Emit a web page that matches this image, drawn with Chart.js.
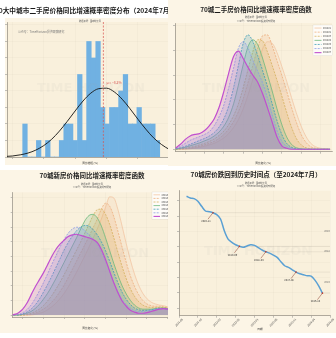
<!DOCTYPE html>
<html><head><meta charset="utf-8">
<script src="https://cdn.jsdelivr.net/npm/chart.js@4.4.1/dist/chart.umd.min.js"></script>
<style>
html,body{margin:0;padding:0;background:#fff;width:336px;height:338px;overflow:hidden}
.panel{position:absolute;overflow:hidden}
.panel canvas{position:absolute}
</style></head><body>
<div class="panel" style="left:0;top:0;width:168px;height:169px"><canvas id="c1" width="183" height="169" style="left:-6px;top:0;width:183px;height:169px"></canvas></div>
<div class="panel" style="left:168px;top:0;width:168px;height:169px"><canvas id="c2" width="168" height="169" style="left:0;top:0;width:168px;height:169px"></canvas></div>
<div class="panel" style="left:0;top:169px;width:168px;height:169px"><canvas id="c3" width="195" height="169" style="left:0;top:0;width:195px;height:169px"></canvas></div>
<div class="panel" style="left:168px;top:169px;width:168px;height:169px"><canvas id="c4" width="168" height="169" style="left:0;top:0;width:168px;height:169px"></canvas></div>
<script>
// ---------------- DATA ----------------
// Panel 1: histogram of 70 cities' second-hand price YoY (Jul 2024)
const HIST_START = -13.34;
const HIST_BIN_WIDTH = 0.291;
const HIST_COUNTS = [2,0,0,1,0,1,0,0,1,2,2,1,5,1,7,6,7,3,2,3,3,4,5,2,2,3,2,2,2,1];
const HIST_MEAN = -8.2;
const NORMAL_X = [-14.5,-14,-13.5,-13,-12.5,-12,-11.5,-11,-10.5,-10,-9.5,-9,-8.5,-8,-7.5,-7,-6.5,-6,-5.5,-5,-4.5,-4,-3.5];
const NORMAL_Y = [0.03,0.06,0.13,0.24,0.42,0.69,1.07,1.57,2.16,2.79,3.39,3.87,4.14,4.17,3.94,3.50,2.92,2.29,1.69,1.16,0.76,0.46,0.26];
const HIST_X_TICKS = [-14,-12,-10,-8,-6,-4];
const HIST_Y_TICKS = [0,1,2,3,4,5,6,7,8];

// Panel 2: KDE of second-hand price YoY, 7 months
const SERIES_LABELS = ['2024-01','2024-02','2024-03','2024-04','2024-05','2024-06','2024-07'];
const KDE2_X = [-15,-14.5,-14,-13.5,-13,-12.5,-12,-11.5,-11,-10.5,-10,-9.5,-9,-8.5,-8,-7.5,-7,-6.5,-6,-5.5,-5,-4.5,-4,-3.5,-3,-2.5,-2,-1.5,-1,-0.5,0,0.5,1];
const KDE2_S1 = [0,0,0,.001,.002,.004,.006,.009,.012,.017,.023,.032,.044,.060,.082,.110,.142,.175,.203,.218,.215,.196,.168,.138,.105,.074,.047,.026,.012,.005,.002,.001,0];
const KDE2_S2 = [0,0,.001,.002,.004,.006,.009,.012,.016,.022,.030,.041,.056,.076,.102,.135,.170,.205,.230,.232,.210,.180,.150,.118,.085,.055,.030,.014,.005,.002,0,0,0];
const KDE2_S3 = [0,.001,.002,.004,.006,.009,.012,.016,.021,.028,.037,.050,.068,.092,.125,.162,.198,.222,.220,.198,.170,.140,.108,.075,.045,.022,.009,.003,.001,0,0,0,0];
const KDE2_S4 = [0,.002,.004,.007,.010,.013,.017,.021,.027,.035,.047,.065,.092,.130,.172,.208,.222,.212,.185,.152,.118,.082,.050,.025,.010,.003,.001,0,0,0,0,0,0];
const KDE2_S5 = [.001,.003,.006,.010,.014,.018,.022,.027,.034,.045,.062,.088,.125,.170,.215,.232,.218,.190,.160,.128,.092,.058,.030,.012,.004,.001,0,0,0,0,0,0,0];
const KDE2_S6 = [.002,.006,.012,.018,.022,.026,.030,.036,.048,.066,.090,.125,.165,.205,.218,.205,.180,.158,.135,.105,.070,.038,.016,.006,.002,0,0,0,0,0,0,0,0];
const KDE2_S7 = [.003,.010,.020,.027,.030,.032,.038,.048,.062,.085,.118,.155,.188,.199,.184,.166,.150,.136,.113,.085,.055,.025,.007,.002,0,0,0,0,0,0,0,0,0];
const KDE2_X_TICKS = [-14,-12,-10,-8,-6,-4,-2,0];
const KDE2_Y_TICKS = [0,0.05,0.10,0.15,0.20,0.25];

// Panel 3: KDE of new-home price YoY, 7 months
const KDE3_X = [-14,-13.5,-13,-12.5,-12,-11.5,-11,-10.5,-10,-9.5,-9,-8.5,-8,-7.5,-7,-6.5,-6,-5.5,-5,-4.5,-4,-3.5,-3,-2.5,-2,-1.5,-1,-0.5,0,0.5,1,1.5,2,2.5,3,3.5,4,4.5,5,5.5,6,6.5,7,7.5];
const KDE3_S1 = [0,0,0,0,0,0,.001,.003,.005,.009,.014,.020,.028,.037,.048,.060,.073,.087,.101,.116,.131,.147,.164,.184,.202,.200,.180,.152,.122,.094,.070,.051,.037,.028,.022,.019,.017,.016,.014,.011,.008,.005,.002,.001];
const KDE3_S2 = [0,0,0,0,0,.001,.003,.006,.010,.015,.022,.030,.040,.051,.064,.078,.092,.106,.120,.134,.149,.164,.181,.191,.186,.168,.143,.116,.090,.067,.049,.035,.025,.019,.016,.015,.015,.014,.013,.010,.007,.004,.002,.001];
const KDE3_S3 = [0,0,0,0,.001,.003,.006,.010,.016,.024,.033,.044,.056,.069,.083,.097,.111,.125,.140,.155,.170,.180,.181,.172,.155,.132,.107,.083,.062,.045,.032,.023,.017,.014,.013,.013,.013,.013,.012,.009,.006,.003,.001,0];
const KDE3_S4 = [0,0,0,.001,.003,.006,.011,.018,.027,.037,.049,.062,.076,.090,.104,.118,.132,.147,.161,.170,.172,.166,.152,.132,.110,.088,.068,.050,.036,.025,.017,.012,.010,.010,.010,.011,.012,.012,.011,.008,.005,.003,.001,0];
const KDE3_S5 = [0,0,0,.002,.005,.010,.017,.027,.039,.052,.066,.081,.096,.111,.124,.135,.144,.150,.153,.152,.146,.137,.125,.110,.092,.073,.055,.039,.027,.018,.012,.009,.008,.008,.009,.010,.011,.011,.010,.008,.005,.002,.001,0];
const KDE3_S6 = [0,0,.001,.004,.009,.017,.028,.041,.055,.070,.086,.101,.116,.129,.140,.147,.150,.149,.144,.137,.130,.121,.108,.092,.074,.056,.040,.027,.018,.012,.008,.006,.006,.007,.008,.010,.011,.011,.010,.007,.004,.002,.001,0];
const KDE3_S7 = [0,.001,.004,.010,.020,.034,.048,.060,.072,.086,.100,.112,.121,.128,.134,.137,.138,.136,.134,.132,.129,.124,.112,.095,.075,.055,.038,.024,.015,.008,.005,.003,.003,.004,.006,.008,.010,.011,.010,.008,.005,.003,.001,0];
const KDE3_X_TICKS = [-12.5,-10,-7.5,-5,-2.5,0,2.5,5,7.5];
const KDE3_Y_TICKS = [0,0.025,0.05,0.075,0.1,0.125,0.15,0.175,0.2];

// Panel 4: 70-city price index, monthly 2021-07 .. 2024-07
const LINE_DATES = ['2021-07','2021-08','2021-09','2021-10','2021-11','2021-12','2022-01','2022-02','2022-03','2022-04','2022-05','2022-06','2022-07','2022-08','2022-09','2022-10','2022-11','2022-12','2023-01','2023-02','2023-03','2023-04','2023-05','2023-06','2023-07','2023-08','2023-09','2023-10','2023-11','2023-12','2024-01','2024-02','2024-03','2024-04','2024-05','2024-06','2024-07'];
const LINE_VALUES = [98.61,98.39,98.30,97.96,97.30,96.69,96.60,96.47,96.21,95.65,94.12,93.03,92.60,92.29,92.08,91.95,92.12,92.29,92.20,91.90,91.60,91.37,91.20,90.94,90.64,90.07,89.55,89.33,89.02,88.72,88.50,88.37,88.24,88.20,87.67,86.93,85.97];
const ANNOT_IDX = [7,14,21,29,36];
const ANNOT_LABELS = ['2020-11','2019-06','2018-09','2017-08','2016-10'];
const RIGHT_NOTES = ['2020','2018','2016'];
const LINE_X_TICKS = [-2,3,8,13,18,23,28,33,38];
const LINE_X_TICK_LABELS = ['2021-05','2021-10','2022-03','2022-08','2023-01','2023-06','2023-11','2024-04','2024-09'];
const LINE_Y_TICKS = [84,86,88,90,92,94,96,98];

// ---------------- STYLE ----------------
const FONT = '"Noto Sans CJK SC","DejaVu Sans",sans-serif';
const FIG_BG = '#fcf5e6';
const PLOT_BG = '#f9f0dc';
const KDE_COLORS = ['#f2c7a5','#eeaf7e','#d6b15e','#6cb97c','#3e9db8','#8d9de4','#c04fcf'];
const KDE_DASH = [[],[2,1.2],[2,1.2],[],[2,1.2],[2,1.2],[]];
const SRC = '数据来源：国家统计局';
const GZH = '公众号：TimeHorizon投资观察研究';

function hexA(h,a){const n=parseInt(h.slice(1),16);return `rgba(${n>>16&255},${n>>8&255},${n&255},${a})`;}
function T(ctx,s,x,y,size,o={}){ctx.save();ctx.font=`${o.weight||'normal'} ${size}px ${FONT}`;ctx.fillStyle=o.color||'#333';ctx.textAlign=o.align||'center';ctx.textBaseline=o.baseline||'middle';if(o.rot){ctx.translate(x,y);ctx.rotate(o.rot);ctx.fillText(s,0,0);}else ctx.fillText(s,x,y);ctx.restore();}
function watermark(ctx,x,y){ctx.save();ctx.font=`bold 13px "DejaVu Sans",sans-serif`;ctx.fillStyle='rgba(170,170,170,0.08)';ctx.textAlign='center';ctx.textBaseline='middle';ctx.fillText('TIME HORIZON',x,y);ctx.restore();}
const minus = v => String(v).replace('-','\u2212');

function axis(ticks, fmt, extra={}){
  return Object.assign({
    type:'linear', offset:false,
    afterBuildTicks: s => { s.ticks = ticks.map(v=>({value:v})); },
    ticks:{font:{family:FONT,size:2.7}, color:'#444', padding:1, autoSkip:false, maxRotation:0, minRotation:0, callback: v => fmt(v)},
    grid:{color:'rgba(0,0,0,0.04)', lineWidth:0.5, tickColor:'#888', tickLength:2, drawTicks:true, offset:false},
    border:{color:'#8f8a80', width:0.7}
  }, extra);
}
function legend(ctx,x,y,w,rowH,lineLen,fs){
  ctx.save();
  ctx.fillStyle='rgba(255,255,255,0.8)';ctx.strokeStyle='rgba(0,0,0,0.12)';ctx.lineWidth=0.4;
  ctx.fillRect(x,y,w,rowH*SERIES_LABELS.length+2);ctx.strokeRect(x,y,w,rowH*SERIES_LABELS.length+2);
  SERIES_LABELS.forEach((l,i)=>{
    const yy=y+1+rowH*(i+0.5);
    ctx.strokeStyle=KDE_COLORS[i];ctx.lineWidth=i===6?1.1:0.8;ctx.setLineDash(KDE_DASH[i]);
    ctx.beginPath();ctx.moveTo(x+1.5,yy);ctx.lineTo(x+1.5+lineLen,yy);ctx.stroke();
    ctx.setLineDash([]);
    T(ctx,l,x+3+lineLen,yy,fs,{align:'left',color:'#333'});
  });
  ctx.restore();
}
function kdeSets(xs, series){
  return series.map((ys,i)=>({label:SERIES_LABELS[i], data:xs.map((x,j)=>({x,y:ys[j]})),
    borderColor:KDE_COLORS[i], backgroundColor:hexA(KDE_COLORS[i],0.2), borderWidth:i===6?1.2:0.8,
    borderDash:KDE_DASH[i], fill:'origin', pointRadius:0, cubicInterpolationMode:'monotone', order:6-i}));
}
const common = {responsive:false, animation:false, devicePixelRatio:1, events:[],
  plugins:{legend:{display:false}, tooltip:{enabled:false}, title:{display:false}}};

// ---------------- PANEL 1 ----------------
new Chart(document.getElementById('c1'), {
  type:'bar',
  data:{datasets:[
    {type:'line', data:NORMAL_X.map((x,i)=>({x,y:NORMAL_Y[i]})), borderColor:'#111', borderWidth:0.9, pointRadius:0, cubicInterpolationMode:'monotone', fill:false, order:0},
    {type:'bar', data:HIST_COUNTS.map((c,i)=>({x:HIST_START+(i+0.5)*HIST_BIN_WIDTH, y:c})), backgroundColor:'#70b1e2', borderWidth:0, barPercentage:1, categoryPercentage:1, order:1}
  ]},
  options:Object.assign({}, common, {
    layout:{padding:{left:13,top:22,right:0,bottom:12}},
    scales:{
      x:axis(HIST_X_TICKS, minus, {min:-14.34, max:-3.51, afterFit:s=>{s.height=0;}}),
      y:axis(HIST_Y_TICKS, v=>String(v), {min:0, max:8.18, afterFit:s=>{s.width=0;}})
    }
  }),
  plugins:[{id:'p1',
    beforeDraw(c){const ctx=c.ctx,a=c.chartArea;ctx.save();ctx.fillStyle='#fff';ctx.fillRect(0,0,c.width,c.height);
      ctx.fillStyle=FIG_BG;ctx.fillRect(11,18,c.width-11,147);ctx.fillStyle=PLOT_BG;ctx.fillRect(a.left,a.top,a.right-a.left,a.bottom-a.top);ctx.restore();},
    afterDatasetsDraw(c){const ctx=c.ctx,a=c.chartArea,x=c.scales.x.getPixelForValue(HIST_MEAN);
      ctx.save();ctx.strokeStyle='#d9534f';ctx.lineWidth=0.7;ctx.setLineDash([2,1.5]);ctx.beginPath();ctx.moveTo(x,a.top);ctx.lineTo(x,a.bottom);ctx.stroke();ctx.restore();
      T(ctx,'μ = '+minus(HIST_MEAN)+'%',x+3,83,3.4,{align:'left',color:'#d9534f'});
      watermark(ctx,97,89);},
    afterDraw(c){const ctx=c.ctx;
      T(ctx,'70大中城市二手房价格同比增速概率密度分布（2024年7月）',91.5,10,6.7,{color:'#1a1a1a',weight:'bold'});
      T(ctx,SRC,96,21,2.2,{color:'#555'});
      T(ctx,GZH,24,32,2.9,{align:'left',color:'#777'});
      T(ctx,'同比增幅 (%)',96,163,2.7,{color:'#333'});}
  }]
});

// ---------------- PANEL 2 ----------------
new Chart(document.getElementById('c2'), {
  type:'line',
  data:{datasets:kdeSets(KDE2_X,[KDE2_S1,KDE2_S2,KDE2_S3,KDE2_S4,KDE2_S5,KDE2_S6,KDE2_S7])},
  options:Object.assign({}, common, {
    layout:{padding:{left:7,top:23,right:4,bottom:17.3}},
    scales:{
      x:axis(KDE2_X_TICKS, minus, {min:-15.07, max:1.2, afterFit:s=>{s.height=0;}}),
      y:axis(KDE2_Y_TICKS, v=>v.toFixed(2), {min:-0.005, max:0.256, afterFit:s=>{s.width=0;}})
    }
  }),
  plugins:[{id:'p2',
    beforeDraw(c){const ctx=c.ctx,a=c.chartArea;ctx.save();ctx.fillStyle='#fff';ctx.fillRect(0,0,c.width,c.height);ctx.fillStyle=FIG_BG;ctx.fillRect(0,0,c.width,166);
      ctx.fillStyle=PLOT_BG;ctx.fillRect(a.left,a.top,a.right-a.left,a.bottom-a.top);ctx.restore();},
    afterDatasetsDraw(c){watermark(c.ctx,88,89);},
    afterDraw(c){const ctx=c.ctx;
      T(ctx,'70城二手房价格同比增速概率密度函数',88,10,6.5,{color:'#1a1a1a',weight:'bold'});
      T(ctx,SRC,88,17,2.2,{color:'#555'});
      T(ctx,GZH,88,21,2.4,{color:'#555'});
      T(ctx,'同比变化 (%)',95,162.5,2.7,{color:'#333'});
      legend(ctx,145,25,19.5,4.1,7,2.2);}
  }]
});

// ---------------- PANEL 3 ----------------
new Chart(document.getElementById('c3'), {
  type:'line',
  data:{datasets:kdeSets(KDE3_X,[KDE3_S1,KDE3_S2,KDE3_S3,KDE3_S4,KDE3_S5,KDE3_S6,KDE3_S7])},
  options:Object.assign({}, common, {
    layout:{padding:{left:12.7,top:23.3,right:7,bottom:21}},
    scales:{
      x:axis(KDE3_X_TICKS, v=>minus(v.toFixed(1)), {min:-13.71, max:7.46, afterFit:s=>{s.height=0;}}),
      y:axis(KDE3_Y_TICKS, v=>v.toFixed(3), {min:-0.0034, max:0.2097, afterFit:s=>{s.width=0;}})
    }
  }),
  plugins:[{id:'p3',
    beforeDraw(c){const ctx=c.ctx,a=c.chartArea;ctx.save();ctx.fillStyle='#fff';ctx.fillRect(0,0,c.width,c.height);ctx.fillStyle=FIG_BG;ctx.fillRect(0,1,c.width,163);
      ctx.fillStyle=PLOT_BG;ctx.fillRect(a.left,a.top,a.right-a.left,a.bottom-a.top);ctx.restore();},
    afterDatasetsDraw(c){watermark(c.ctx,95,85);},
    afterDraw(c){const ctx=c.ctx;
      T(ctx,'70城新房价格同比增速概率密度函数',92,7,6.5,{color:'#1a1a1a',weight:'bold'});
      T(ctx,SRC,92,15,2.2,{color:'#555'});
      T(ctx,GZH,92,18,2.4,{color:'#555'});
      T(ctx,'同比变化 (%)',90,159,2.7,{color:'#333'});
      legend(ctx,152,23,30,3.6,6.5,2.2);}
  }]
});

// ---------------- PANEL 4 ----------------
new Chart(document.getElementById('c4'), {
  type:'line',
  data:{datasets:[{data:LINE_VALUES.map((v,i)=>({x:i,y:v})), borderColor:'#5aa0d4', borderWidth:1.5, pointRadius:0, tension:0.3, fill:false}]},
  options:Object.assign({}, common, {
    layout:{padding:{left:11,top:21.7,right:6,bottom:22.3}},
    scales:{
      x:axis(LINE_X_TICKS, v=>'', {min:-2, max:38, afterFit:s=>{s.height=0;}}),
      y:axis(LINE_Y_TICKS, v=>v.toFixed(2), {min:83.03, max:99.34, afterFit:s=>{s.width=0;}})
    }
  }),
  plugins:[{id:'p4',
    beforeDraw(c){const ctx=c.ctx,a=c.chartArea;ctx.save();ctx.fillStyle='#fff';ctx.fillRect(0,0,c.width,c.height);ctx.fillStyle=FIG_BG;ctx.fillRect(0,1,c.width,163);
      ctx.fillStyle=PLOT_BG;ctx.fillRect(a.left,a.top,a.right-a.left,a.bottom-a.top);
      const xs=c.scales.x, ys=c.scales.y;
      ctx.strokeStyle='rgba(0,0,0,0.13)';ctx.lineWidth=0.5;
      ANNOT_IDX.forEach(i=>{const px=xs.getPixelForValue(i),py=ys.getPixelForValue(LINE_VALUES[i]);ctx.beginPath();ctx.moveTo(px,py);ctx.lineTo(a.right,py);ctx.stroke();});
      ctx.restore();},
    afterDatasetsDraw(c){const ctx=c.ctx,xs=c.scales.x,ys=c.scales.y;
      watermark(ctx,90,83);
      ANNOT_IDX.forEach((i,k)=>{const px=xs.getPixelForValue(i),py=ys.getPixelForValue(LINE_VALUES[i]);
        ctx.save();ctx.strokeStyle='#8b3a2a';ctx.lineWidth=0.5;ctx.beginPath();ctx.moveTo(px,py);ctx.lineTo(px-5,py+6.5);ctx.stroke();
        ctx.fillStyle='#c0392b';ctx.beginPath();ctx.arc(px,py,0.8,0,Math.PI*2);ctx.fill();ctx.restore();
        T(ctx,ANNOT_LABELS[k],px-7,py+8.3,2.6,{color:'#333'});});
    },
    afterDraw(c){const ctx=c.ctx,xs=c.scales.x;
      LINE_X_TICKS.forEach((m,k)=>T(ctx,LINE_X_TICK_LABELS[k],xs.getPixelForValue(m),153.5,2.7,{color:'#444',rot:-Math.PI/4}));
      RIGHT_NOTES.forEach((s,k)=>T(ctx,s,159,[62,82,113][k],2.5,{color:'#666'}));
      T(ctx,'70城房价跌回到历史时间点（至2024年7月）',88,6,6.5,{color:'#1a1a1a',weight:'bold'});
      T(ctx,SRC,88,14,2.2,{color:'#555'});
      T(ctx,GZH,88,17,2.4,{color:'#555'});
      T(ctx,'日期',92,160,2.7,{color:'#333'});}
  }]
});
</script>
</body></html>
